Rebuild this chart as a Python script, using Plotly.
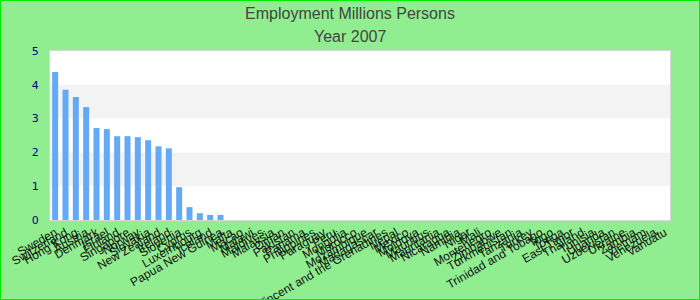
import plotly.graph_objects as go

countries = [
    "Sweden", "Switzerland", "Hong Kong", "Austria", "Denmark", "Israel",
    "Finland", "Singapore", "Norway", "Slovakia", "New Zealand", "Ireland",
    "Slovenia", "Cyprus", "Luxembourg", "Iceland", "Papua New Guinea",
    "Malta", "Macao", "Malawi", "Maldives", "Malaysia", "Oman", "Pakistan",
    "Panama", "Philippines", "Paraguay", "Peru", "Mongolia", "Morocco",
    "Mozambique", "Madagascar", "Saint Vincent and the Grenadines", "Nepal",
    "Mexico", "Moldova", "Mauritius", "Mauritania", "Nicaragua", "Namibia",
    "Niger", "Mali", "Montenegro", "Zimbabwe", "Turkmenistan", "Tanzania",
    "Turkey", "Trinidad and Tobago", "Togo", "Tonga", "East Timor",
    "Thailand", "Tunisia", "Uganda", "Uzbekistan", "Ukraine", "Zambia",
    "Vietnam", "Venezuela", "Vanuatu",
]
employment = [
    4.38, 3.85, 3.64, 3.34, 2.72, 2.69, 2.48, 2.48, 2.45, 2.36, 2.18, 2.12,
    0.97, 0.38, 0.20, 0.15, 0.15,
] + [0] * 43
band_ranges = [(1, 2), (3, 4)]
title_line1 = "Employment Millions Persons"
title_line2 = "Year 2007"

fig = go.Figure()
fig.add_trace(go.Bar(x=countries, y=employment, marker=dict(color="#64a9f5", line=dict(width=0))))

shapes = []
for lo, hi in band_ranges:
    shapes.append(dict(type="rect", xref="paper", yref="y", x0=0, x1=1, y0=lo, y1=hi,
                       fillcolor="#f3f3f3", line=dict(width=0), layer="below"))
L, R, T, B = 50, 30, 51, 80
W, H = 700, 300
pw, ph = W - L - R, H - T - B
shapes.append(dict(type="rect", xref="paper", yref="paper",
                   x0=-L / pw, x1=1 + R / pw, y0=-B / ph, y1=1 + T / ph,
                   line=dict(color="#00ee00", width=2), fillcolor="rgba(0,0,0,0)", layer="above"))

title_font = dict(family="Liberation Sans, Arial", size=16, color="#444444")
fig.update_layout(
    width=W, height=H,
    margin=dict(l=L, r=R, t=T, b=B),
    paper_bgcolor="#90ee90",
    plot_bgcolor="white",
    showlegend=False,
    bargap=0.42,
    shapes=shapes,
    title=dict(text=title_line1, x=0.5, xref="container",
               y=1 - 13 / H, yref="container", xanchor="center", yanchor="middle",
               font=title_font),
    annotations=[dict(text=title_line2, x=(W / 2 - L) / pw, xref="paper", y=1 + (T - 36) / ph, yref="paper",
                      xanchor="center", yanchor="middle", showarrow=False, font=title_font)],
    xaxis=dict(tickangle=-30, tickfont=dict(family="Liberation Sans, Arial", size=12, color="#111111"),
               tickmode="array", tickvals=countries, ticktext=countries,
               showline=True, mirror=True, linecolor="#d6d6d6", linewidth=1,
               showgrid=False, ticks="", automargin=False),
    yaxis=dict(range=[0, 5], dtick=1, tickfont=dict(family="DejaVu Sans", size=11, color="#00008b"),
               showline=True, mirror=True, linecolor="#d6d6d6", linewidth=1,
               showgrid=False, zeroline=False, ticks="", ticklabelstandoff=8, automargin=False),
)

fig.write_html("out.html")
